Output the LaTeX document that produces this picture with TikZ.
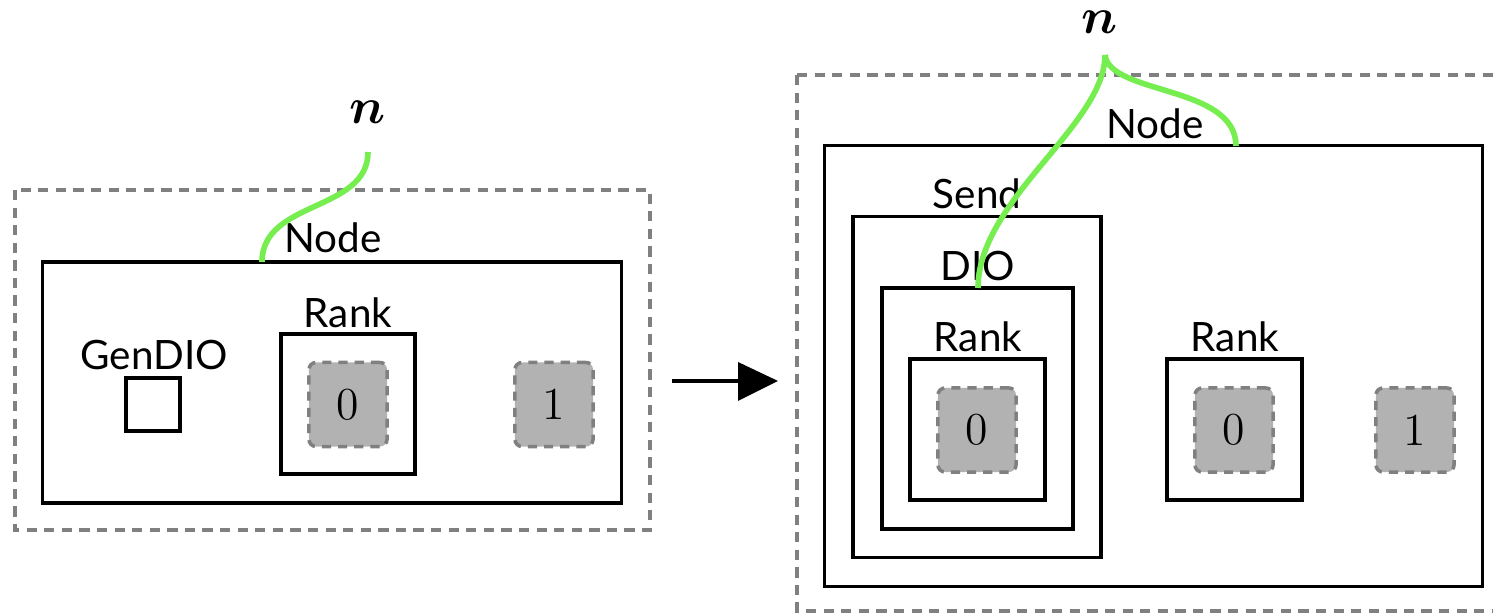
\documentclass[tikz,border=0pt]{standalone}
\usepackage{bm}
\usepackage{fontspec}
\setsansfont{Lato}
\begin{document}
\begin{tikzpicture}[x=0.01cm,y=-0.01cm,
  lbl/.style={font=\sffamily\fontsize{11.5}{13}\selectfont,inner sep=0pt},
  box/.style={draw=black,line width=0.9pt,inner sep=0pt},
  outer/.style={draw=black!50,line width=0.95pt,dash pattern=on 2.9pt off 2.1pt},
  proc/.style={draw=black!50,fill=black!30,line width=1pt,dash pattern=on 2.6pt off 2pt,
    rounded corners=2pt,inner sep=0pt,minimum width=0.78cm,minimum height=0.84cm,
    font=\fontsize{13}{15}\selectfont},
  link/.style={draw=linkgreen,line width=1.6pt},
  symb/.style={inner sep=0pt,font=\fontsize{14}{16}\selectfont}]
\definecolor{linkgreen}{RGB}{118,238,80}
\useasboundingbox (0,0) rectangle (1493,613);

% ---- before ----
\draw[outer] (15,190) rectangle (650,530);
\node[box,minimum width=5.78cm,minimum height=2.41cm] (nodeA) at (332,382.5) {};
\node[lbl] (nodeAl) at (333,238) {Node};
\node[box,minimum width=1.34cm,minimum height=1.40cm] (rankA) at (348,404) {};
\node[lbl] (rankAl) at (348,313) {Rank};
\node[proc] (p0A) at (348,404.5) {0};
\node[proc] (p1A) at (554,404.5) {1};
\node[box,minimum width=0.54cm,minimum height=0.53cm] (gen) at (153,404.5) {};
\node[lbl] (genl) at (154,355) {GenDIO};
\node[symb] (nA) at (368,112) {$\bm{n}$};
\coordinate (nAend) at (368,152);
\coordinate (nodeAtop) at (262,262);
\draw[link] (nAend) .. controls (368,212) and (262,200) .. (nodeAtop);

% ---- transition ----
\coordinate (arS) at (672,381);
\coordinate (arE) at (778,381);
\draw[line width=1.2pt] (arS) -- (738,381);
\fill (738,362) -- (arE) -- (738,401) -- cycle;

% ---- after ----
\draw[outer] (797,75) -- (1500,75);
\draw[outer] (797,75) -- (797,611) -- (1500,611);
\node[box,minimum width=6.57cm,minimum height=4.40cm] (nodeB) at (1153.5,366) {};
\node[lbl] (nodeBl) at (1155,124) {Node};
\node[box,minimum width=2.48cm,minimum height=3.40cm] (send) at (977,387) {};
\node[lbl] (sendl) at (977,194) {Send};
\node[box,minimum width=1.91cm,minimum height=2.41cm] (dio) at (977.5,408.5) {};
\node[lbl] (diol) at (978,266) {DIO};
\node[box,minimum width=1.35cm,minimum height=1.41cm] (rankB) at (977.5,429.5) {};
\node[lbl] (rankBl) at (978,337) {Rank};
\node[proc] (p0B) at (977,430) {0};
\node[box,minimum width=1.35cm,minimum height=1.41cm] (rankC) at (1234.5,429.5) {};
\node[lbl] (rankCl) at (1235,337) {Rank};
\node[proc] (p0C) at (1234,430) {0};
\node[proc] (p1B) at (1415,430) {1};
\node[symb] (nB) at (1100,22) {$\bm{n}$};
\coordinate (nBend) at (1105,55);
\coordinate (dioTop) at (978,288);
\coordinate (nodeBtop) at (1236,146);
\draw[link] (nBend) .. controls (1105,125) and (978,200) .. (dioTop);
\draw[link] (nBend) .. controls (1110,95) and (1236,85) .. (nodeBtop);
\end{tikzpicture}
\end{document}
